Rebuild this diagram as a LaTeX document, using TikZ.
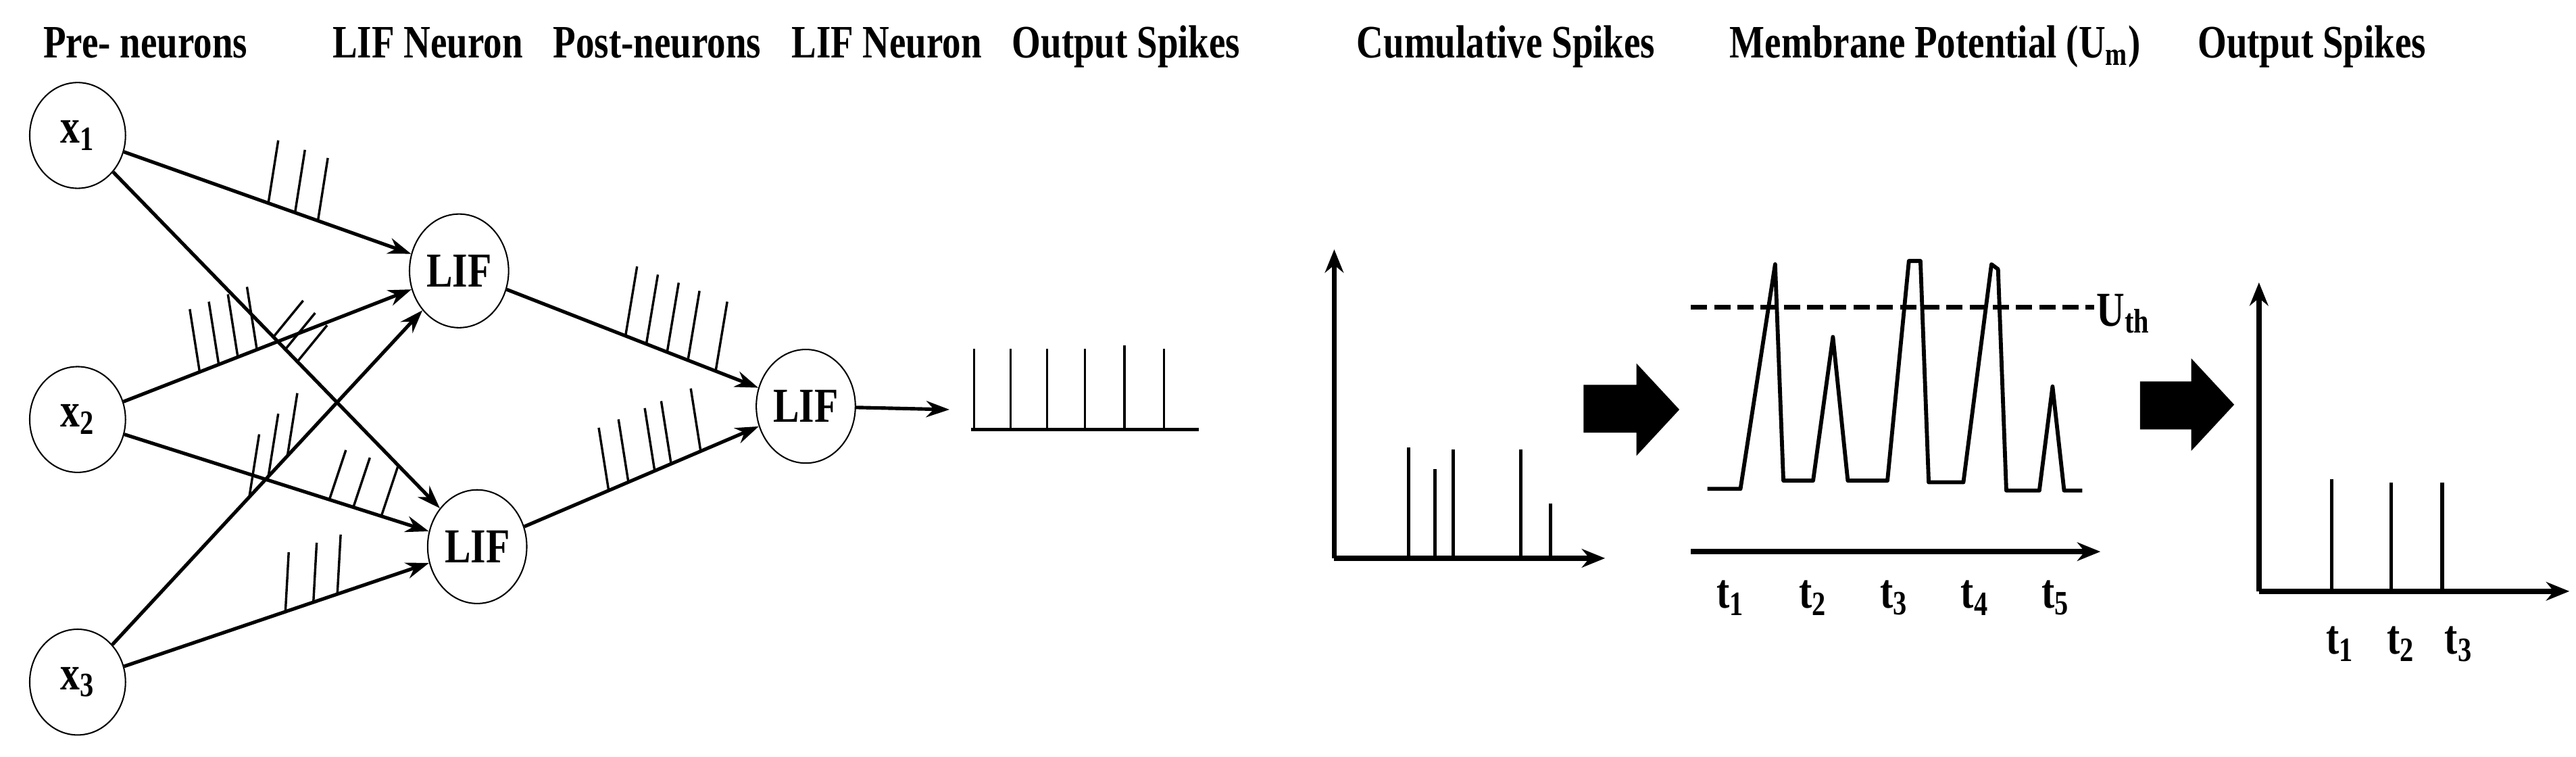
\documentclass[tikz,border=0pt]{standalone}
\usepackage{fontspec}
\setmainfont{Liberation Serif}[FakeStretch=0.8]
\usetikzlibrary{calc,arrows.meta,shapes.geometric}
\begin{document}
\begin{tikzpicture}[x=0.025cm,y=-0.025cm,
  neuron/.style={draw,line width=0.6pt,ellipse,minimum width=1.45cm,minimum height=1.6cm,inner sep=0pt,font=\fontsize{21}{22}\bfseries},
  lif/.style={draw,line width=0.6pt,ellipse,minimum width=1.5cm,minimum height=1.72cm,inner sep=0pt,font=\fontsize{21}{22}\bfseries},
  ttl/.style={font=\fontsize{20}{22}\bfseries,anchor=base},
  edge/.style={line width=1.5pt,-{Stealth[length=10pt,width=7pt]}},
  tk/.style={line width=1pt},
  ax/.style={line width=2.2pt,-{Stealth[length=10pt,width=8pt]}},
  sp/.style={line width=1.6pt},
  tl/.style={font=\fontsize{21}{22}\bfseries}]
\useasboundingbox (0,0) rectangle (1560,458);
% titles
\node[ttl] (t1) at (88,35) {Pre- neurons};
\node[ttl] (t2) at (259,35) {LIF Neuron};
\node[ttl] (t3) at (398,35) {Post-neurons};
\node[ttl] (t4) at (537,35) {LIF Neuron};
\node[ttl] (t5) at (682,35) {Output Spikes};
\node[ttl] (t6) at (912,35) {Cumulative Spikes};
\node[ttl] (t7) at (1172,35) {Membrane Potential (U\textsubscript{m})};
\node[ttl] (t8) at (1400,35) {Output Spikes};
% neurons
\node[neuron] (x1) at (47,82) {x\textsubscript{1}};
\node[neuron] (x2) at (47,254) {x\textsubscript{2}};
\node[neuron] (x3) at (47,413) {x\textsubscript{3}};
\node[lif] (l1) at (278,164) {LIF};
\node[lif] (l2) at (289,331) {LIF};
\node[lif] (l3) at (488,246) {LIF};
\draw[edge] (x1) -- (l1);
\draw[edge] (x1) -- (l2);
\draw[edge] (x2) -- (l1);
\draw[edge] (x2) -- (l2);
\draw[edge] (x3) -- (l1);
\draw[edge] (x3) -- (l2);
\draw[edge] (l1) -- (l3);
\draw[edge] (l2) -- (l3);
% ticks
\foreach \f in {.50,.57,.63} \draw[tk] ($(x1)!\f!(l1)$) -- ++(6,-38);
\foreach \f in {.32,.37,.42,.47} \draw[tk] ($(x2)!\f!(l1)$) -- ++(-6,-38);
\foreach \f in {.49,.52,.55} \draw[tk] ($(x1)!\f!(l2)$) -- ++(18,-22);
\foreach \f in {.45,.50,.55} \draw[tk] ($(x3)!\f!(l1)$) -- ++(6,-38);
\foreach \f in {.63,.69,.76} \draw[tk] ($(x2)!\f!(l2)$) -- ++(10,-30);
\foreach \f in {.52,.59,.65} \draw[tk] ($(x3)!\f!(l2)$) -- ++(2,-36);
\foreach \f in {.48,.54,.60,.66,.74} \draw[tk] ($(l1)!\f!(l3)$) -- ++(7,-42);
\foreach \f in {.40,.46,.54,.59,.68} \draw[tk] ($(l2)!\f!(l3)$) -- ++(-6,-38);
% output spikes
\coordinate (oa) at (575,248);
\draw[edge] (l3) -- (oa);
\draw[sp] (588,260) -- (726,260);
\foreach \x/\t in {590/211,612/211,634/211,657/211,681/209,705/211} \draw[line width=1pt] (\x,260) -- (\x,\t);
% cumulative plot
\draw[ax] (808,338) -- (808,151);
\draw[ax] (808,338) -- (972,338);
\foreach \x/\t in {853/271,869/284,880/272,921/272,939/305} \draw[sp] (\x,338) -- (\x,\t);
% big arrows
\fill (959,233) -- (991,233) -- (991,220) -- (1017,248) -- (991,276) -- (991,262) -- (959,262) -- cycle;
\fill (1296,231) -- (1327,231) -- (1327,217) -- (1353,245) -- (1327,273) -- (1327,260) -- (1296,260) -- cycle;
% membrane
\draw[line width=1.8pt,dash pattern=on 7pt off 3pt] (1024,186) -- (1268,186);
\node[tl,anchor=west,inner sep=1pt] (uth) at (1268,190) {U\textsubscript{th}};
\draw[line width=1.7pt,line join=round] (1034,296) -- (1054,296) -- (1075,160) -- (1080,291) -- (1098,291) -- (1110,204) -- (1119,291) -- (1143,291) -- (1156,158) -- (1163,158) -- (1168,292) -- (1189,292) -- (1206,160) -- (1210,163) -- (1215,297) -- (1235,297) -- (1243,234) -- (1250,297) -- (1261,297);
\draw[ax] (1024,334) -- (1272,334);
\foreach \x/\i in {1048/1,1098/2,1147/3,1196/4,1245/5} \node[tl] (m\i) at (\x,362) {t\textsubscript{\i}};
% output plot
\draw[ax] (1368,358) -- (1368,171);
\draw[ax] (1368,358) -- (1556,358);
\foreach \x/\t in {1412/290,1448/292,1479/292} \draw[sp] (\x,358) -- (\x,\t);
\foreach \x/\i in {1417/1,1454/2,1489/3} \node[tl] (o\i) at (\x,390) {t\textsubscript{\i}};
\end{tikzpicture}
\end{document}
